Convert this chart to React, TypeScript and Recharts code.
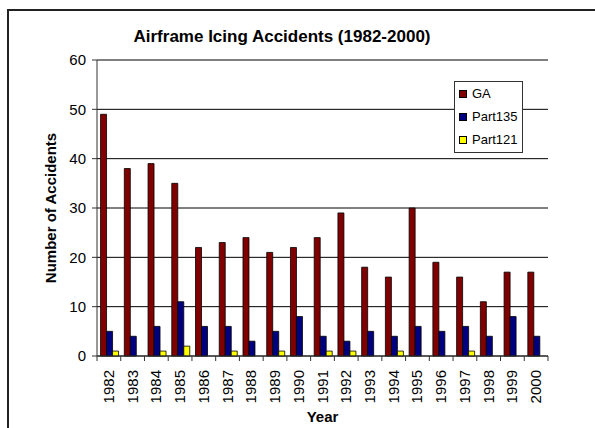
import React from 'react'
import {
  BarChart, Bar, XAxis, YAxis, CartesianGrid, Legend, Label,
} from 'recharts'

const years = ['1982', '1983', '1984', '1985', '1986', '1987', '1988', '1989', '1990', '1991',
  '1992', '1993', '1994', '1995', '1996', '1997', '1998', '1999', '2000']
const gaCounts = [49, 38, 39, 35, 22, 23, 24, 21, 22, 24, 29, 18, 16, 30, 19, 16, 11, 17, 17]
const part135Counts = [5, 4, 6, 11, 6, 6, 3, 5, 8, 4, 3, 5, 4, 6, 5, 6, 4, 8, 4]
const part121Counts = [1, 0, 1, 2, 0, 1, 0, 1, 0, 1, 1, 0, 1, 0, 0, 1, 0, 0, 0]
const yTicks = [0, 10, 20, 30, 40, 50, 60]

const seriesInfo = [
  { key: 'GA', color: '#800000' },
  { key: 'Part135', color: '#000080' },
  { key: 'Part121', color: '#ffff00' },
]

const data = years.map((year, i) => ({
  year,
  GA: gaCounts[i],
  Part135: part135Counts[i],
  Part121: part121Counts[i],
}))

const FONT = '"Liberation Sans", Arial, sans-serif'

// ticks sit between the categories, like the old excel chart
function YearTick(props: any) {
  const { x, y, payload, index, visibleTicksCount } = props
  const half = payload?.offset ?? 11.87
  const axisY = y - 8
  const isLast = index === visibleTicksCount - 1
  return (
    <g>
      <line x1={x - half} x2={x - half} y1={axisY} y2={axisY + 5} stroke="#333" />
      {isLast && <line x1={x + half} x2={x + half} y1={axisY} y2={axisY + 5} stroke="#333" />}
      <text
        transform={`translate(${x + 5},${axisY + 14}) rotate(-90)`}
        textAnchor="end"
        fontSize={15}
        fontFamily={FONT}
        fill="#000"
      >
        {payload.value}
      </text>
    </g>
  )
}

function LegendBox() {
  return (
    <div style={{
      width: 67, height: 70, border: '1px solid #333', background: '#fff',
      fontFamily: FONT, fontSize: 13, color: '#000', boxSizing: 'content-box',
    }}>
      {seriesInfo.map((s) => (
        <div key={s.key} style={{ display: 'flex', alignItems: 'center', height: 23, paddingLeft: 4 }}>
          <div style={{ width: 6, height: 6, background: s.color, border: '1px solid #000', marginRight: 5 }} />
          <span>{s.key}</span>
        </div>
      ))}
    </div>
  )
}

export default function App() {
  return (
    <div style={{ position: 'absolute', left: 0, top: 0, width: 595, height: 428, background: '#fff', overflow: 'hidden' }}>
      <div style={{
        position: 'absolute', left: 7, top: 9, width: 600, height: 430,
        borderTop: '2px solid #222', borderLeft: '2px solid #222',
      }} />
      <div style={{
        position: 'absolute', left: 0, top: 27, width: 564, textAlign: 'center',
        fontFamily: FONT, fontWeight: 'bold', fontSize: 17, color: '#000',
      }}>
        Airframe Icing Accidents (1982-2000)
      </div>
      <BarChart
        width={595}
        height={428}
        data={data}
        margin={{ top: 60, right: 47, left: 0, bottom: 2 }}
        barCategoryGap="15%"
        barGap={0}
        style={{ position: 'absolute', left: 0, top: 0 }}
      >
        <CartesianGrid vertical={false} stroke="#000" />
        <XAxis
          dataKey="year"
          interval={0}
          height={70}
          tickLine={false}
          tickSize={5}
          tickMargin={3}
          axisLine={{ stroke: '#333' }}
          tick={<YearTick />}
        >
          <Label value="Year" position="insideBottom" offset={4}
            style={{ fontFamily: FONT, fontWeight: 'bold', fontSize: 15, fill: '#000' }} />
        </XAxis>
        <XAxis xAxisId="top" dataKey="year" orientation="top" height={0}
          tick={false} tickLine={false} axisLine={{ stroke: '#a0a0a0' }} />
        <YAxis
          domain={[0, 60]}
          ticks={yTicks}
          width={97}
          tickSize={5}
          tickMargin={6}
          axisLine={{ stroke: '#333' }}
          tickLine={{ stroke: '#333' }}
          tick={{ fontFamily: FONT, fontSize: 15, fill: '#000' }}
        >
          <Label value="Number of Accidents" angle={-90} position="insideLeft" offset={51}
            style={{ textAnchor: 'middle', fontFamily: FONT, fontWeight: 'bold', fontSize: 15, fill: '#000' }} />
        </YAxis>
        <YAxis yAxisId="right" orientation="right" domain={[0, 60]} width={0}
          tick={false} tickLine={false} axisLine={{ stroke: '#a0a0a0' }} />
        <Legend
          layout="vertical"
          align="center"
          verticalAlign="middle"
          content={<LegendBox />}
          wrapperStyle={{ position: 'absolute', left: 454, top: 81, width: 'auto', height: 'auto' }}
        />
        {seriesInfo.map((s) => (
          <Bar key={s.key} dataKey={s.key} fill={s.color} stroke="#000" strokeWidth={0.8}
            isAnimationActive={false} />
        ))}
      </BarChart>
    </div>
  )
}
